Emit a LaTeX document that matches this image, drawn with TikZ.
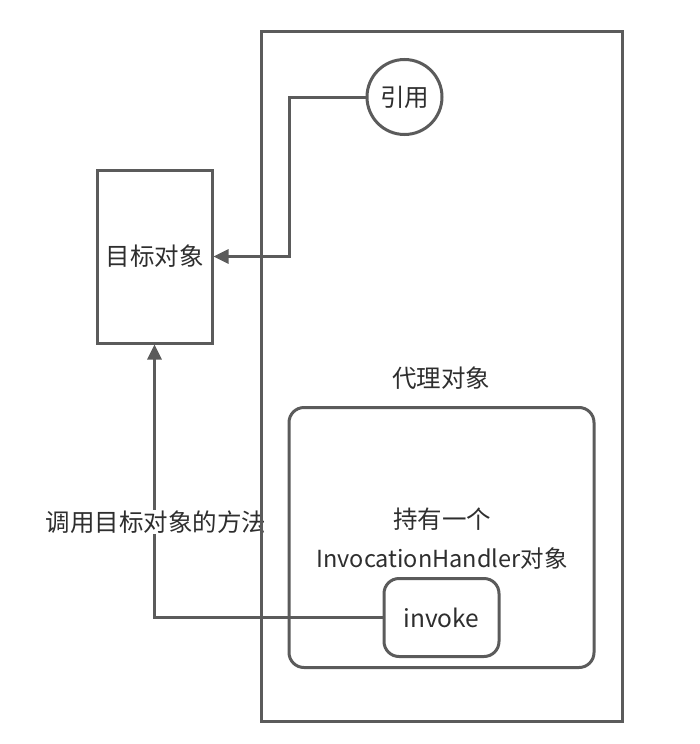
\documentclass[tikz,border=0pt]{standalone}
\usepackage{fontspec}
\newfontfamily\cjk{Noto Sans CJK SC}
\usetikzlibrary{arrows.meta}
\definecolor{ln}{HTML}{5B5B5B}
\definecolor{tx}{HTML}{2E2E2E}
\tikzset{
  every node/.style={font=\cjk\fontsize{24.5}{29}\selectfont, text=tx},
  box/.style={draw=ln, line width=3pt, fill=none, inner sep=0pt},
  rbox/.style={box, rounded corners=15pt},
  conn/.style={draw=ln, line width=3pt, -{Triangle[length=15pt,width=14pt]}}
}
\begin{document}
\begin{tikzpicture}[x=1pt,y=-1pt]
\useasboundingbox (0,0) rectangle (700,744);
% target
\node[box, minimum width=115pt, minimum height=173pt] (target) at (154.5,256.5) {目标对象};
% inner rounded rect
\node[rbox, minimum width=305pt, minimum height=260pt] (handler) at (441.5,537.5) {};
\node (proxylbl) at (441,378) {代理对象};
\node (hold) at (442,519) {持有一个};
\node[font=\cjk\fontsize{23.5}{28}\selectfont] (ih) at (442,559) {InvocationHandler对象};
% invoke
\node[rbox, fill=white, minimum width=115pt, minimum height=78pt] (invoke) at (441.5,617.5) {invoke};
% reference circle
\node[box, circle, fill=white, minimum size=75pt] (ref) at (404.5,97) {引用};
% connectors
\coordinate (bend) at (289.5,97);
\draw[conn] (ref.west) -- (bend) |- (target.east);
\draw[conn] (invoke.west) -| (target.south);
\node[fill=white, inner sep=1pt] (lbl) at (156,522) {调用目标对象的方法};
% outer proxy rectangle (drawn last so it shows over the label)
\node[box, minimum width=361pt, minimum height=690pt] (proxy) at (441.5,376) {};
\end{tikzpicture}
\end{document}
